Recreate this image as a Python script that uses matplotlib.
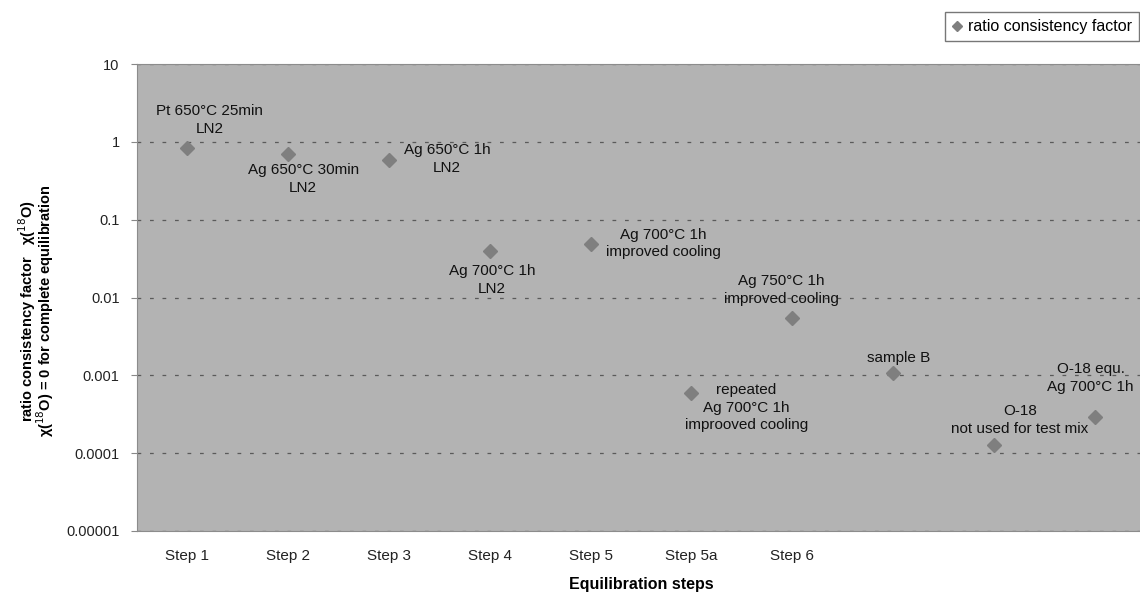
import numpy as np
import matplotlib.pyplot as plt

plt.rcParams['font.family'] = ['Liberation Sans', 'DejaVu Sans']

# equilibration steps and measured ratio consistency factor
steps = ["Step 1", "Step 2", "Step 3", "Step 4", "Step 5", "Step 5a", "Step 6", "", "", ""]
chi = [0.84, 0.70, 0.59, 0.040, 0.048, 0.0006, 0.0054, 0.00106, 0.000126, 0.00029]
notes = [
    "Pt 650°C 25min\nLN2",
    "Ag 650°C 30min\nLN2",
    "Ag 650°C 1h\nLN2",
    "Ag 700°C 1h\nLN2",
    "Ag 700°C 1h\nimproved cooling",
    "repeated\nAg 700°C 1h\nimprooved cooling",
    "Ag 750°C 1h\nimproved cooling",
    "sample B",
    "O-18\nnot used for test mix",
    "O-18 equ.\nAg 700°C 1h",
]
# label offsets from each point, in pixels
note_dx = [22, 15, 58, 2, 73, 55, -11, 6, 26, -4]
note_dy = [28, -25, 1, -29, 1, -15, 28, 15, 25, 39]

fig = plt.figure(figsize=(11.4, 5.93), dpi=100)
ax = fig.add_axes([137/1140, 62/593, 1008/1140, 467/593])
ax.set_facecolor('#b3b3b3')

x = np.arange(len(steps))
ax.plot(x, chi, linestyle='none', marker='D', markersize=7, color='#7f7f7f',
        markeredgecolor='#7f7f7f', label='ratio consistency factor', zorder=3)

for xi, yi, txt, dx, dy in zip(x, chi, notes, note_dx, note_dy):
    ax.annotate(txt, (xi, yi), xytext=(dx, dy), textcoords='offset pixels',
                ha='center', va='center', multialignment='center',
                fontsize=11, color='#111111', linespacing=1.35, zorder=4)

ax.set_yscale('log')
ax.set_ylim(1e-5, 10)
ax.set_xlim(-0.5, len(steps) - 0.5)
ax.set_yticks([1e-5, 1e-4, 1e-3, 1e-2, 1e-1, 1, 10])
ax.set_yticklabels(["0.00001", "0.0001", "0.001", "0.01", "0.1", "1", "10"])
ax.minorticks_off()
ax.set_xticks(x)
ax.set_xticklabels(steps)
ax.tick_params(axis='x', length=0, pad=13, labelsize=11, labelcolor='#222222')
ax.tick_params(axis='y', length=4, pad=8.5, color='#888888', labelsize=10.5,
               labelcolor='#222222')

ax.yaxis.grid(True, linestyle=(0, (3, 7)), linewidth=0.9, color='#5a5a5a')
ax.set_axisbelow(True)

for s in ['left', 'bottom', 'top']:
    ax.spines[s].set_color('#8c8c8c')
ax.spines['right'].set_visible(False)

ax.set_xlabel("Equilibration steps", fontsize=11.5, fontweight='bold', labelpad=10)
fig.text(0.0315, 0.476,
         "ratio consistency factor   χ($^{18}$O)\nχ($^{18}$O) = 0 for complete equilibration",
         rotation=90, ha='center', va='center', multialignment='center',
         fontsize=10.5, fontweight='bold', linespacing=0.8)

leg = ax.legend(loc='upper right', bbox_to_anchor=(1139/1140, 581/593),
                bbox_transform=fig.transFigure, frameon=True, fancybox=False,
                fontsize=11.5, handlelength=0.6, handletextpad=0.4,
                borderpad=0.45, markerscale=0.8, borderaxespad=0)
leg.get_frame().set_edgecolor('#555555')
leg.get_frame().set_linewidth(1.0)

fig.savefig('out.png', dpi=100)
